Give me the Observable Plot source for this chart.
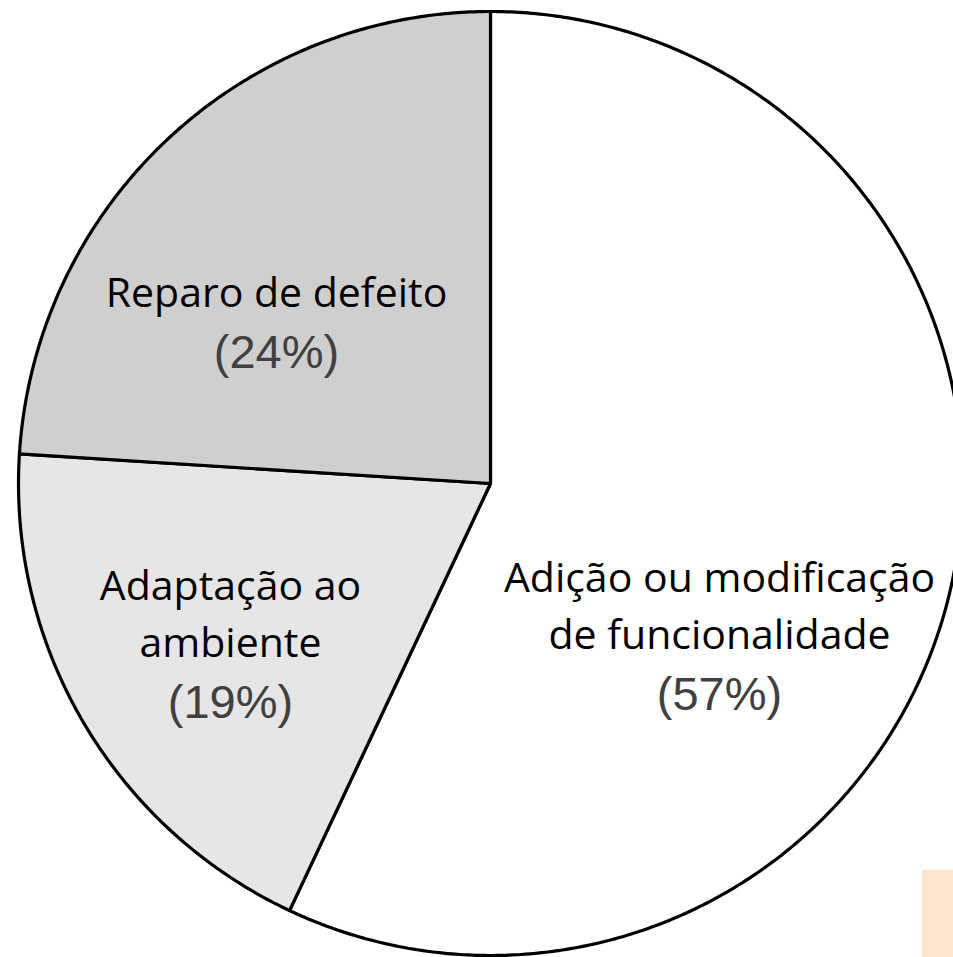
<!DOCTYPE html>
<html><head><meta charset="utf-8">
<script src="https://cdn.jsdelivr.net/npm/d3@7"></script>
<script src="https://cdn.jsdelivr.net/npm/@observablehq/plot@0.6"></script>
<style>
html,body{margin:0;padding:0;background:#fff;overflow:hidden}
#chart{position:relative;width:953px;height:957px}
#chart svg{display:block}
.note{position:absolute;left:922px;top:870px;width:31px;height:87px;background:#fde4cc}
</style></head><body><div id="chart"></div>
<script>
// ---- data ----
const keys = ["Adição", "Adaptação", "Reparo"];
const names = ["Adição ou modificação\nde funcionalidade", "Adaptação ao\nambiente", "Reparo de defeito"];
const shares = [57, 19, 24];
const pctLabels = ["(57%)", "(19%)", "(24%)"];
const fills = ["#ffffff", "#e6e6e6", "#d0cfcf"];

// ---- layout ----
const W = 953, H = 957, cx = 490, cy = 483, R = 472;
const nameBaseline = [[719, 648], [230, 656], [276, 306]]; // px, last line baseline
const pctGap = 61;

const rows = keys.map((k, i) => ({key: k, name: names[i], share: shares[i], pct: pctLabels[i]}));
const arcs = d3.pie().sort(null).value(d => d.share).startAngle(0).endAngle(2 * Math.PI)(rows);

// slice outlines in unit-circle space (y up), clockwise from 12 o'clock
const outline = [];
for (const a of arcs) {
  const k = a.data.key;
  outline.push({key: k, x: 0, y: 0});
  const n = Math.max(2, Math.ceil((a.endAngle - a.startAngle) / (Math.PI / 360)));
  for (let j = 0; j <= n; ++j) {
    const t = a.startAngle + (a.endAngle - a.startAngle) * j / n;
    outline.push({key: k, x: Math.sin(t), y: Math.cos(t)});
  }
}

const labels = rows.map((d, i) => ({
  ...d,
  x: (nameBaseline[i][0] - cx) / R,
  y: (cy - nameBaseline[i][1]) / R,
  py: (cy - nameBaseline[i][1] - pctGap) / R
}));

const chart = Plot.plot({
  width: W, height: H, margin: 0,
  x: {domain: [-cx / R, (W - cx) / R], range: [0, W], axis: null},
  y: {domain: [-(H - cy) / R, cy / R], range: [H, 0], axis: null},
  color: {domain: keys, range: fills},
  marks: [
    Plot.line(outline, {x: "x", y: "y", z: "key", fill: "key", stroke: "#000", strokeWidth: 3.2,
      curve: "linear-closed", strokeLinejoin: "round"}),
    Plot.text(labels, {x: "x", y: "y", text: "name", fontSize: 41, lineHeight: 1.39,
      lineAnchor: "bottom", textAnchor: "middle", fill: "#000", fontFamily: "'Open Sans', sans-serif"}),
    Plot.text(labels, {x: "x", y: "py", text: "pct", fontSize: 47, lineAnchor: "bottom",
      textAnchor: "middle", fill: "#404040", fontFamily: "'Liberation Sans', Arial, sans-serif"})
  ]
});
const host = document.getElementById("chart");
host.appendChild(chart);
const note = document.createElement("div");
note.className = "note";
host.appendChild(note);
</script></body></html>
